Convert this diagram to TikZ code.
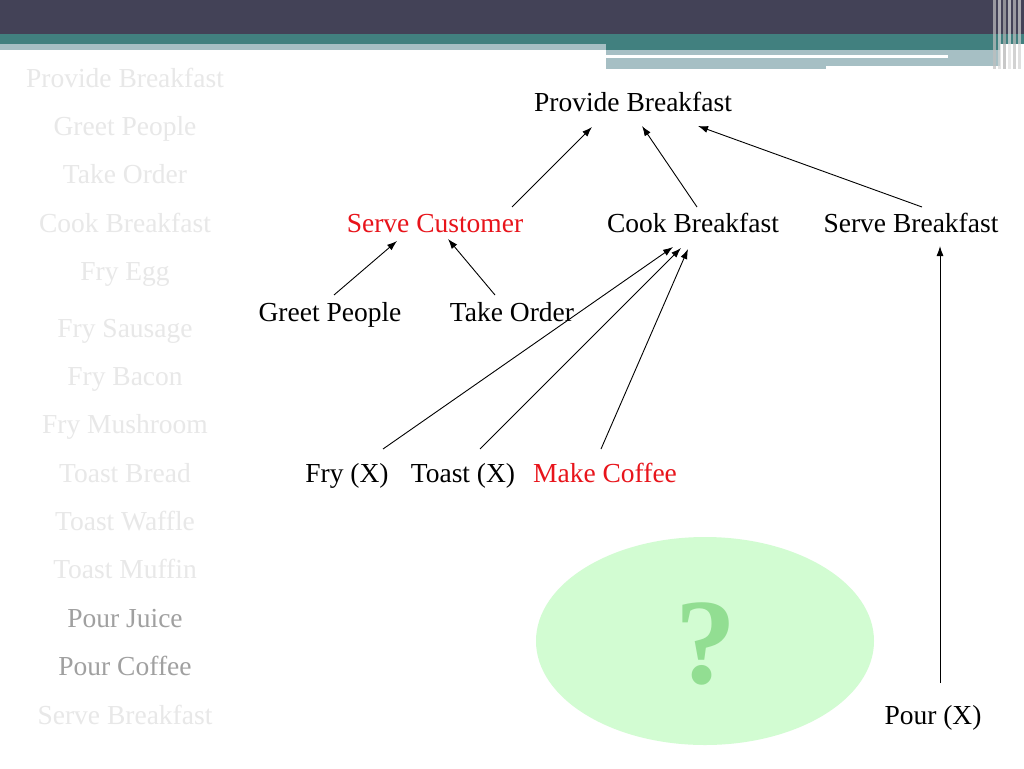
\documentclass[tikz,border=0pt]{standalone}
\usepackage{fontspec}
\setmainfont{Liberation Serif}
\usetikzlibrary{arrows.meta}
\definecolor{hdark}{HTML}{434257}
\definecolor{hteal}{HTML}{41807F}
\definecolor{hlight}{HTML}{A6BFC4}
\definecolor{faint}{HTML}{E8E8E8}
\definecolor{midgray}{HTML}{A0A0A0}
\definecolor{redtxt}{HTML}{E8141B}
\definecolor{ellfill}{HTML}{D2FCD2}
\definecolor{qmark}{HTML}{92DE92}
\tikzset{
  lbl/.style={inner sep=0pt, text height=18pt, text depth=2pt, font=\fontsize{27.5}{30}\selectfont, text=black},
  side/.style={lbl, text=faint},
  sidedark/.style={lbl, text=midgray},
  redlbl/.style={lbl, text=redtxt},
  arr/.style={-{Latex[length=10pt,width=7pt]}, line width=0.9pt, black},
}
\begin{document}
\begin{tikzpicture}[x=1pt,y=-1pt]
\useasboundingbox (0,0) rectangle (1024,768);
\fill[white] (0,0) rectangle (1024,768);
% header
\fill[hdark] (0,0) rectangle (1024,34);
\fill[hteal] (0,34) rectangle (1024,44);
\fill[hlight] (0,44) rectangle (606,50);
\fill[hteal] (606,44) rectangle (1000,50);
\fill[hlight] (606,50) rectangle (1000,66);
\fill[hlight] (606,66) rectangle (826,69);
\fill[white] (606,55) rectangle (948,58);
\foreach \x/\c in {993/gray!50,998/gray!30,1003/gray!60,1008/gray!25,1013/gray!50,1018/gray!35}{
  \fill[\c, opacity=0.7] (\x,0) rectangle ++(2.5,69);
}
% side list
\foreach \t/\y in {Provide Breakfast/79,Greet People/127,Take Order/175,Cook Breakfast/224,Fry Egg/272,Fry Sausage/329,Fry Bacon/377,Fry Mushroom/425,Toast Bread/474,Toast Waffle/522,Toast Muffin/570,Serve Breakfast/716}{
  \node[side] at (125,\y) {\t};
}
\node[sidedark] (pj) at (125,619) {Pour Juice};
\node[sidedark] (pc) at (125,667) {Pour Coffee};
% ellipse
\fill[ellfill] (705,641) ellipse [x radius=169, y radius=104];
\node[inner sep=0pt, text=qmark, font=\fontsize{122}{122}\selectfont\bfseries] (q) at (706,644) {?};
% nodes
\node[lbl] (pb) at (633,103) {Provide Breakfast};
\node[redlbl] (sc) at (435,224) {Serve Customer};
\node[lbl] (cb) at (693,224) {Cook Breakfast};
\node[lbl] (sb) at (911,224) {Serve Breakfast};
\node[lbl] (gp) at (330,313) {Greet People};
\node[lbl] (to) at (512,313) {Take Order};
\node[lbl] (fx) at (347,474) {Fry (X)};
\node[lbl] (tx) at (463,474) {Toast (X)};
\node[redlbl] (mc) at (605,474) {Make Coffee};
\node[lbl] (px) at (933,716) {Pour (X)};
% arrows
\draw[arr] ([xshift=77pt,yshift=17pt]sc.center) -- ([xshift=-41pt,yshift=-24pt]pb.center);
\draw[arr] ([xshift=4pt,yshift=17pt]cb.center) -- ([xshift=9pt,yshift=-23pt]pb.center);
\draw[arr] ([xshift=11pt,yshift=17pt]sb.center) -- ([xshift=65pt,yshift=-23pt]pb.center);
\draw[arr] ([xshift=4pt,yshift=18pt]gp.center) -- ([xshift=-38pt,yshift=-17pt]sc.center);
\draw[arr] ([xshift=-17pt,yshift=18pt]to.center) -- ([xshift=13pt,yshift=-15pt]sc.center);
\draw[arr] ([xshift=36pt,yshift=25pt]fx.center) -- ([xshift=-20pt,yshift=-23pt]cb.center);
\draw[arr] ([xshift=17pt,yshift=25pt]tx.center) -- ([xshift=-12pt,yshift=-24pt]cb.center);
\draw[arr] ([xshift=-4pt,yshift=25pt]mc.center) -- ([xshift=-5pt,yshift=-25pt]cb.center);
\draw[arr] ([xshift=7pt,yshift=33pt]px.center) -- ([xshift=29pt,yshift=-22pt]sb.center);
\end{tikzpicture}
\end{document}
